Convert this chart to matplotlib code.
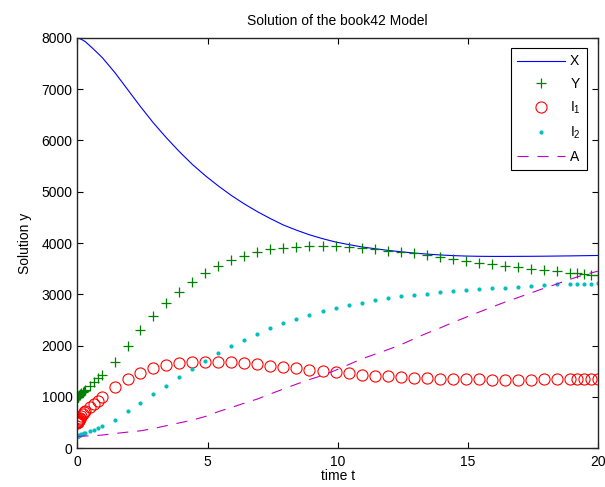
import matplotlib
matplotlib.use('Agg')
import matplotlib.pyplot as plt

plt.rcParams['font.family'] = ['Liberation Sans', 'DejaVu Sans']
plt.rcParams['mathtext.default'] = 'regular'

# solver output times
t = [0, 0.005, 0.01, 0.015, 0.02, 0.04, 0.06, 0.08, 0.1, 0.15, 0.2, 0.25, 0.3,
     0.465, 0.63, 0.795, 0.96, 1.44, 1.93, 2.42, 2.92, 3.42, 3.92, 4.42, 4.92,
     5.42, 5.92, 6.42, 6.92, 7.42, 7.92, 8.42, 8.92, 9.42, 9.92, 10.42, 10.92,
     11.42, 11.92, 12.42, 12.92, 13.42, 13.92, 14.42, 14.92, 15.42, 15.92,
     16.42, 16.92, 17.42, 17.92, 18.42, 18.92, 19.19, 19.46, 19.73, 20.0]

X = [8000, 7999, 7998, 7997, 7996, 7992, 7988, 7984, 7980, 7968, 7955, 7940, 7925,
     7850, 7772, 7692, 7610, 7320, 6990, 6660, 6340, 6050, 5780, 5530, 5310,
     5110, 4925, 4760, 4610, 4475, 4350, 4250, 4160, 4085, 4020, 3970, 3925,
     3890, 3858, 3830, 3805, 3785, 3768, 3755, 3746, 3741, 3739,
     3739, 3740, 3741, 3743, 3746, 3749, 3751, 3753, 3755, 3757]

Y = [1000, 1002, 1005, 1007, 1010, 1020, 1030, 1040, 1050, 1073, 1095, 1118, 1140,
     1215, 1290, 1360, 1425, 1690, 1995, 2300, 2570, 2830, 3040, 3250, 3420,
     3560, 3660, 3750, 3825, 3878, 3912, 3932, 3945, 3946, 3935, 3925, 3900,
     3878, 3852, 3827, 3800, 3770, 3728, 3692, 3655, 3620, 3592,
     3560, 3525, 3497, 3470, 3448, 3424, 3410, 3397, 3385, 3372]

I1 = [500, 505, 510, 514, 518, 535, 552, 568, 585, 625, 663, 698, 732,
      800, 865, 930, 1005, 1201, 1355, 1470, 1555, 1615, 1655, 1678, 1688,
      1685, 1672, 1654, 1634, 1610, 1582, 1555, 1528, 1505, 1482, 1460, 1437,
      1417, 1402, 1389, 1376, 1365, 1357, 1350, 1345, 1341, 1339,
      1338, 1338, 1339, 1341, 1344, 1348, 1350, 1352, 1354, 1356]

I2 = [240, 241, 242, 243, 244, 249, 254, 259, 264, 276, 287, 297, 307,
      335, 360, 390, 425, 560, 718, 880, 1053, 1220, 1390, 1552, 1708,
      1852, 1988, 2117, 2230, 2339, 2437, 2520, 2598, 2670, 2735, 2787, 2835,
      2882, 2924, 2962, 2990, 3014, 3041, 3062, 3082, 3100, 3118,
      3132, 3146, 3164, 3180, 3195, 3203, 3205, 3208, 3211, 3215]

A = [230, 230, 231, 231, 231, 232, 232, 233, 233, 234, 236, 237, 239,
     243, 247, 252, 258, 288, 315, 340, 385, 440, 495, 550, 620,
     715, 795, 880, 960, 1060, 1155, 1250, 1340, 1420, 1520, 1630, 1740,
     1830, 1920, 2015, 2130, 2240, 2340, 2450, 2550, 2650, 2750,
     2845, 2935, 3025, 3115, 3200, 3290, 3335, 3380, 3415, 3450]

fig = plt.figure(figsize=(6.05, 4.87), dpi=100)
ax = fig.add_axes([0.128, 0.0795, 0.860, 0.843])

ax.plot(t, X, '-', color=(0, 0, 1), lw=0.8, label='X')
ax.plot(t, Y, '+', color=(0, 0.5, 0), ms=7, mew=0.9, label='Y')
ax.plot(t, I1, 'o', color='red', mfc='none', ms=8, mew=0.8, label='I$_1$')
ax.plot(t, I2, '.', color=(0, 0.75, 0.75), ms=4, label='I$_2$')
ax.plot(t, A, '--', color=(0.75, 0, 0.75), lw=0.8, dashes=(10, 8), label='A')

ax.set_xlim(0, 20)
ax.set_ylim(0, 8000)
ax.set_xticks([0, 5, 10, 15, 20])
ax.set_yticks(range(0, 8001, 1000))
ax.tick_params(direction='in', top=True, right=True, length=4, labelsize=10, width=0.8)
ax.tick_params(axis='x', pad=5)
for s in ax.spines.values():
    s.set_linewidth(1.0)
    s.set_color('#262626')

ax.set_title('Solution of the book42 Model', fontsize=10, pad=9)
ax.set_xlabel('time t', fontsize=10, labelpad=0)
ax.set_ylabel('Solution y', fontsize=10, labelpad=7)

leg = ax.legend(loc='upper right', fontsize=10, handlelength=3.4, fancybox=False,
                framealpha=1, edgecolor='black', borderaxespad=0.75, labelspacing=0.62,
                borderpad=0.45, handletextpad=0.4)
leg.get_frame().set_linewidth(0.8)

fig.savefig('out.png', dpi=100)
